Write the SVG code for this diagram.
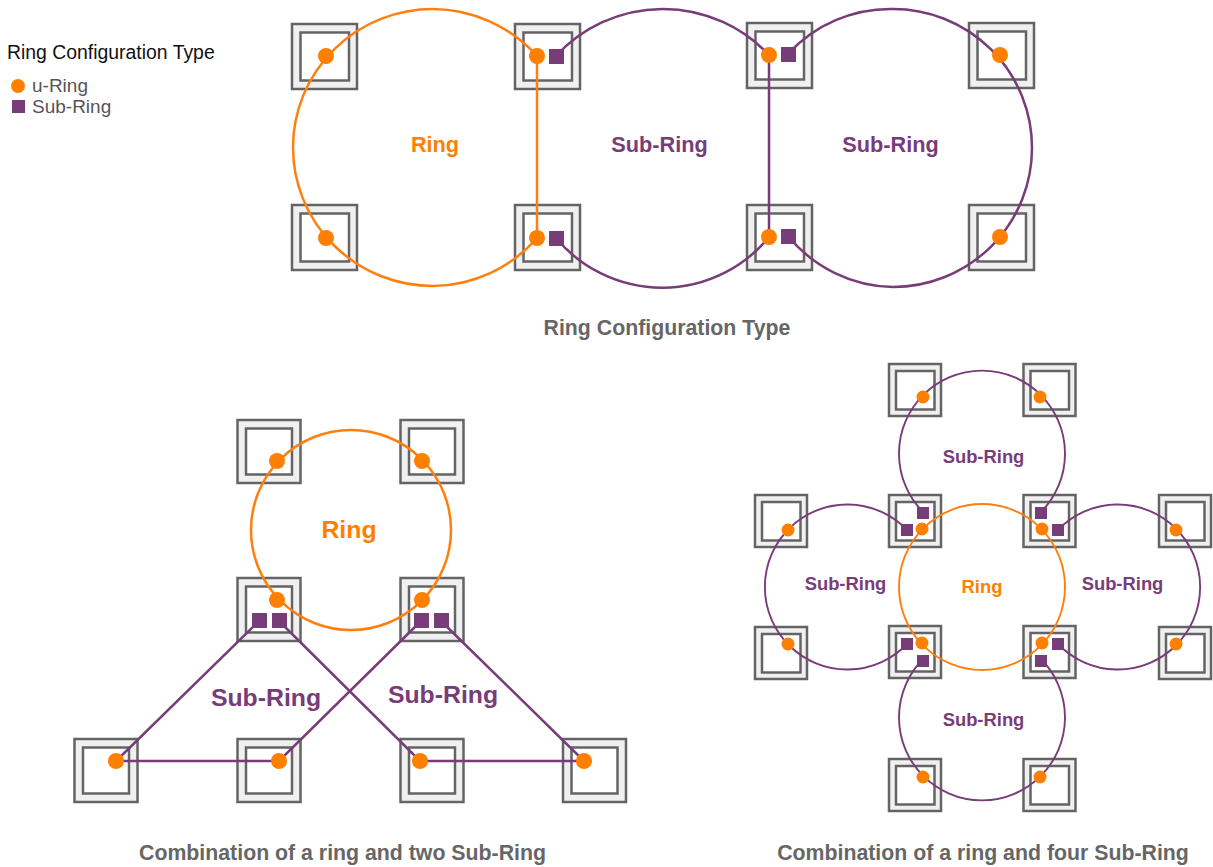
<svg xmlns="http://www.w3.org/2000/svg" width="1213" height="867" viewBox="0 0 1213 867">
<style>
text{font-family:"Liberation Sans",Arial,sans-serif}
.o{fill:#f0f0f0;stroke:#646464;stroke-width:2.500}
.i{fill:#fff;stroke:#646464;stroke-width:2.500}
.co{fill:none;stroke:#ff7f0e;stroke-width:2.500}
.cp{fill:none;stroke:#783c78;stroke-width:2.500}
.thin{stroke-width:1.900}
.d{fill:#ff7f00}
.s{fill:#783c78}
.lo{fill:#ff7f00;font-weight:700}
.lp{fill:#783c78;font-weight:700}
.t{fill:#666;font-weight:700;font-size:21.300px;text-anchor:middle}
.m{text-anchor:middle}
</style>
<rect width="1213" height="867" fill="#fff"/>
<defs>
<g id="a"><rect class="o" x="0" y="0" width="65" height="65"/><rect class="i" x="8.500" y="8.500" width="48.500" height="48"/></g>
<g id="b"><rect class="o" x="0" y="0" width="63" height="63"/><rect class="i" x="8.500" y="8.500" width="46" height="46"/></g>
<g id="c"><rect class="o" x="0" y="0" width="52" height="52"/><rect class="i" x="7" y="7" width="38.500" height="38.500"/></g>
</defs>
<g id="legend">
<text x="7" y="59" font-size="19.400" fill="#111">Ring Configuration Type</text>
<circle class="d" cx="18" cy="86" r="7"/><text x="32" y="92" font-size="19" fill="#555">u-Ring</text>
<rect class="s" x="12" y="100" width="13" height="13"/><text x="32" y="113" font-size="19" fill="#555">Sub-Ring</text>
</g>
<g id="sw-t1"><use href="#a" x="292" y="24"/></g>
<g id="sw-t2"><use href="#a" x="515" y="24"/></g>
<g id="sw-t3"><use href="#a" x="747" y="23"/></g>
<g id="sw-t4"><use href="#a" x="969" y="23"/></g>
<g id="sw-t5"><use href="#a" x="292" y="205"/></g>
<g id="sw-t6"><use href="#a" x="515" y="205"/></g>
<g id="sw-t7"><use href="#a" x="747" y="205"/></g>
<g id="sw-t8"><use href="#a" x="969" y="205"/></g>
<g id="sw-l1"><use href="#b" x="237.500" y="420"/></g>
<g id="sw-l2"><use href="#b" x="400.500" y="420"/></g>
<g id="sw-l3"><use href="#b" x="237.500" y="578"/></g>
<g id="sw-l4"><use href="#b" x="400.500" y="578"/></g>
<g id="sw-l5"><use href="#b" x="74.500" y="739"/></g>
<g id="sw-l6"><use href="#b" x="237.500" y="739"/></g>
<g id="sw-l7"><use href="#b" x="400.500" y="739"/></g>
<g id="sw-l8"><use href="#b" x="563" y="739"/></g>
<g id="sw-r1"><use href="#c" x="889" y="364"/></g>
<g id="sw-r2"><use href="#c" x="1023.500" y="364"/></g>
<g id="sw-r3"><use href="#c" x="755" y="495"/></g>
<g id="sw-r4"><use href="#c" x="889" y="495"/></g>
<g id="sw-r5"><use href="#c" x="1023.500" y="495"/></g>
<g id="sw-r6"><use href="#c" x="1159" y="495"/></g>
<g id="sw-r7"><use href="#c" x="755" y="627"/></g>
<g id="sw-r8"><use href="#c" x="889" y="626"/></g>
<g id="sw-r9"><use href="#c" x="1023.500" y="626"/></g>
<g id="sw-r10"><use href="#c" x="1159" y="627"/></g>
<g id="sw-r11"><use href="#c" x="889" y="759"/></g>
<g id="sw-r12"><use href="#c" x="1023.500" y="759"/></g>
<g id="connectors">
<path class="co" d="M537 56A140 138.500 0 0 0 433 9A140 138.500 0 0 0 293 147A140 138.500 0 0 0 433 286A140 138.500 0 0 0 537 238Z"/>
<path class="cp" d="M556 56A145 145 0 0 1 769 55L769 237A138 138 0 0 1 556 238"/>
<path class="cp" d="M788 54A139 139 0 0 1 893 9A139 139 0 0 1 1032 148A139 139 0 0 1 893 287A139 139 0 0 1 788 236"/>
<circle class="co" cx="351" cy="530" r="100"/>
<path class="cp" d="M259 621L116 761L279 761L421 621M279 621L420 761L584 761L441 621"/>
<circle class="co thin" cx="982" cy="587" r="83"/>
<path class="cp thin" d="M923 512A83 83 0 1 1 1041 512"/>
<path class="cp thin" d="M907 530A82.500 82.500 0 1 0 907 644"/>
<path class="cp thin" d="M1058 530A82.500 82.500 0 1 1 1058 644"/>
<path class="cp thin" d="M923 659A83 83 0 1 0 1041 659"/>
</g>
<g id="ports">
<g class="d"><circle cx="326" cy="56" r="8"/><circle cx="537" cy="56" r="8"/><circle cx="769" cy="55" r="8"/><circle cx="1000" cy="55" r="8"/><circle cx="326" cy="238" r="8"/><circle cx="537" cy="238" r="8"/><circle cx="769" cy="237" r="8"/><circle cx="1000" cy="237" r="8"/>
<circle cx="277" cy="461" r="8"/><circle cx="422" cy="461" r="8"/><circle cx="277" cy="600" r="8"/><circle cx="422" cy="600" r="8"/><circle cx="116" cy="761" r="8"/><circle cx="279" cy="761" r="8"/><circle cx="420" cy="761" r="8"/><circle cx="584" cy="761" r="8"/>
<circle cx="923" cy="397" r="6.500"/><circle cx="1040" cy="397" r="6.500"/><circle cx="788" cy="530" r="6.500"/><circle cx="922" cy="529" r="6.500"/><circle cx="1042" cy="529" r="6.500"/><circle cx="1176" cy="530" r="6.500"/><circle cx="788" cy="644" r="6.500"/><circle cx="922" cy="643" r="6.500"/><circle cx="1042" cy="643" r="6.500"/><circle cx="1176" cy="644" r="6.500"/><circle cx="923" cy="777" r="6.500"/><circle cx="1040" cy="777" r="6.500"/></g>
<g class="s"><rect x="549" y="49" width="15" height="15"/><rect x="781" y="47" width="15" height="15"/><rect x="549" y="231" width="15" height="15"/><rect x="781" y="229" width="15" height="15"/>
<rect x="252" y="613" width="15" height="15"/><rect x="272" y="613" width="15" height="15"/><rect x="414" y="613" width="15" height="15"/><rect x="434" y="613" width="15" height="15"/>
<rect x="917" y="507" width="12" height="12"/><rect x="901" y="524" width="12" height="12"/><rect x="1035" y="507" width="12" height="12"/><rect x="1052" y="524" width="12" height="12"/><rect x="901" y="638" width="12" height="12"/><rect x="917" y="655" width="12" height="12"/><rect x="1052" y="638" width="12" height="12"/><rect x="1035" y="655" width="12" height="12"/></g>
</g>
<g id="labels">
<text class="lo m" x="435" y="152" font-size="21.700">Ring</text>
<text class="lp m" x="659.500" y="152" font-size="21.700">Sub-Ring</text>
<text class="lp m" x="890.500" y="152" font-size="21.700">Sub-Ring</text>
<text class="t" x="667" y="335">Ring Configuration Type</text>
<text class="lo m" x="349" y="538" font-size="24.800">Ring</text>
<text class="lp m" x="266" y="706" font-size="24.800">Sub-Ring</text>
<text class="lp m" x="443" y="703" font-size="24.800">Sub-Ring</text>
<text class="t" x="342.500" y="860">Combination of a ring and two Sub-Ring</text>
<text class="lp m" x="983.500" y="463" font-size="18.400">Sub-Ring</text>
<text class="lp m" x="845.500" y="590" font-size="18.400">Sub-Ring</text>
<text class="lo m" x="982" y="593" font-size="18.400">Ring</text>
<text class="lp m" x="1122.500" y="590" font-size="18.400">Sub-Ring</text>
<text class="lp m" x="983.500" y="726" font-size="18.400">Sub-Ring</text>
<text class="t" x="983" y="860">Combination of a ring and four Sub-Ring</text>
</g>
</svg>
